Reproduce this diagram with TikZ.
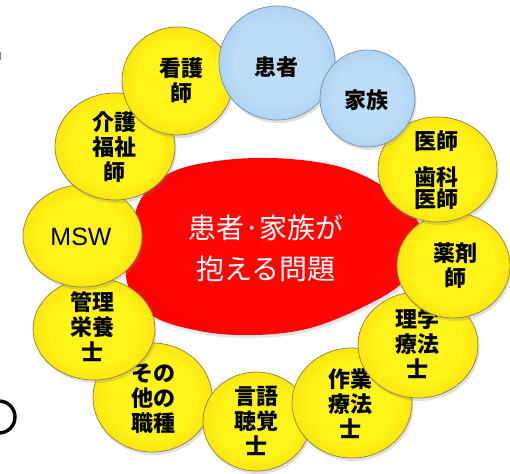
\documentclass[tikz,border=0pt]{standalone}
\usepackage{fontspec}
\newfontfamily\jp{Noto Sans CJK JP}
\newfontfamily\lib{Liberation Sans}
\usetikzlibrary{shapes.geometric,shadows}
\definecolor{yelIn}{HTML}{FFF41A}
\definecolor{yelMid}{HTML}{FBE00C}
\definecolor{yelOut}{HTML}{EBBA00}
\definecolor{yelLine}{HTML}{8E8040}
\definecolor{bluIn}{HTML}{BCDDF7}
\definecolor{bluMid}{HTML}{A8D0F1}
\definecolor{bluOut}{HTML}{88B5DE}
\definecolor{bluLine}{HTML}{7090AE}
\definecolor{redIn}{HTML}{FF0505}
\definecolor{redMid}{HTML}{F60000}
\definecolor{redOut}{HTML}{D20000}
\pgfdeclareradialshading{yball}{\pgfpoint{0bp}{0bp}}{color(0bp)=(yelIn); color(18bp)=(yelIn); color(28bp)=(yelMid); color(36bp)=(yelOut); color(100bp)=(yelOut)}
\pgfdeclareradialshading{bball}{\pgfpoint{0bp}{0bp}}{color(0bp)=(bluIn); color(18bp)=(bluIn); color(28bp)=(bluMid); color(36bp)=(bluOut); color(100bp)=(bluOut)}
\pgfdeclareradialshading{rball}{\pgfpoint{0bp}{0bp}}{color(0bp)=(redIn); color(22bp)=(redIn); color(30bp)=(redMid); color(37bp)=(redOut); color(100bp)=(redOut)}
\tikzset{
  disc/.style={ellipse, inner sep=0pt, line width=0.7pt,
    drop shadow={opacity=0.25, shadow xshift=1.5pt, shadow yshift=-3pt}},
  ydisc/.style={disc, draw=yelLine, shade, shading=yball},
  bdisc/.style={disc, draw=bluLine, shade, shading=bball},
  lbl/.style={font=\jp\bfseries\fontsize{22}{25}\selectfont, align=center, text=black, inner sep=0pt},
  ctext/.style={font=\jp\fontsize{28}{41}\selectfont, align=center, text=white, inner sep=0pt},
}
\begin{document}
\begin{tikzpicture}[x=1pt,y=-1pt]
\useasboundingbox (0,0) rectangle (510,473);
\fill[white] (0,0) rectangle (510,473);
\clip (0,0) rectangle (510,473);

% stray fragments at the left edge
\draw[gray, line width=1.2pt] (0.5,52) -- (0.5,60);
\draw[black, line width=3.4pt] (-1,417) circle[radius=16pt];

% central problem shape
\path[shade, shading=rball,
      drop shadow={opacity=0.2, shadow xshift=1.5pt, shadow yshift=-3pt}]
  plot[smooth cycle, tension=0.6] coordinates {
    (126,276) (138,205) (170,173) (225,160) (290,159) (350,170)
    (398,198) (425,240) (405,280) (365,306) (310,328) (255,335)
    (200,331) (150,314)};
\node[ctext] (probT) at (266,248) {患者·家族が\\抱える問題};

% circles, in stacking order
\node[ydisc, minimum width=119pt, minimum height=109pt] (sonota) at (152.5,397.5) {};
\node[lbl] (sonotaT) at (153,399) {その\\他の\\職種};

\node[ydisc, minimum width=107pt, minimum height=99pt] (gengo) at (256.5,421.5) {};
\node[lbl] (gengoT) at (256,421) {言語\\聴覚\\士};

\node[ydisc, minimum width=120pt, minimum height=110pt] (sagyo) at (352,403) {};
\node[lbl] (sagyoT) at (350,404) {作業\\療法\\士};

\node[ydisc, minimum width=120pt, minimum height=106pt] (rigaku) at (418,345) {};
\node[lbl] (rigakuT) at (417,344) {理学\\療法\\士};

\node[ydisc, minimum width=113pt, minimum height=105pt] (yaku) at (453.5,265.5) {};
\node[lbl] (yakuT) at (455,266) {薬剤\\師};

\node[ydisc, minimum width=119pt, minimum height=105pt] (ishi) at (437.5,169.5) {};
\node[lbl, font=\jp\bfseries\fontsize{22}{22}\selectfont] (ishiT) at (436,170.5) {医師\\[14pt]歯科\\医師};

\node[ydisc, minimum width=122pt, minimum height=102pt] (kanri) at (94,329) {};
\node[lbl] (kanriT) at (92,327) {管理\\栄養\\士};

\node[ydisc, minimum width=119pt, minimum height=102pt] (msw) at (82.5,236) {};
\node[font=\lib\fontsize{25}{25}\selectfont, text=black, inner sep=0pt] (mswT) at (81,237) {MSW};

\node[ydisc, minimum width=120pt, minimum height=107pt] (kaigo) at (115,146.5) {};
\node[lbl] (kaigoT) at (114,147) {介護\\福祉\\師};

\node[ydisc, minimum width=111pt, minimum height=108pt] (kango) at (177.5,81) {};
\node[lbl] (kangoT) at (181,81) {看護\\師};

\node[bdisc, minimum width=116pt, minimum height=114pt] (kanja) at (277,63) {};
\node[lbl] (kanjaT) at (276,67) {患者};

\node[bdisc, minimum width=95pt, minimum height=97pt] (kazoku) at (367.5,98.5) {};
\node[lbl] (kazokuT) at (366,100) {家族};
\end{tikzpicture}
\end{document}
